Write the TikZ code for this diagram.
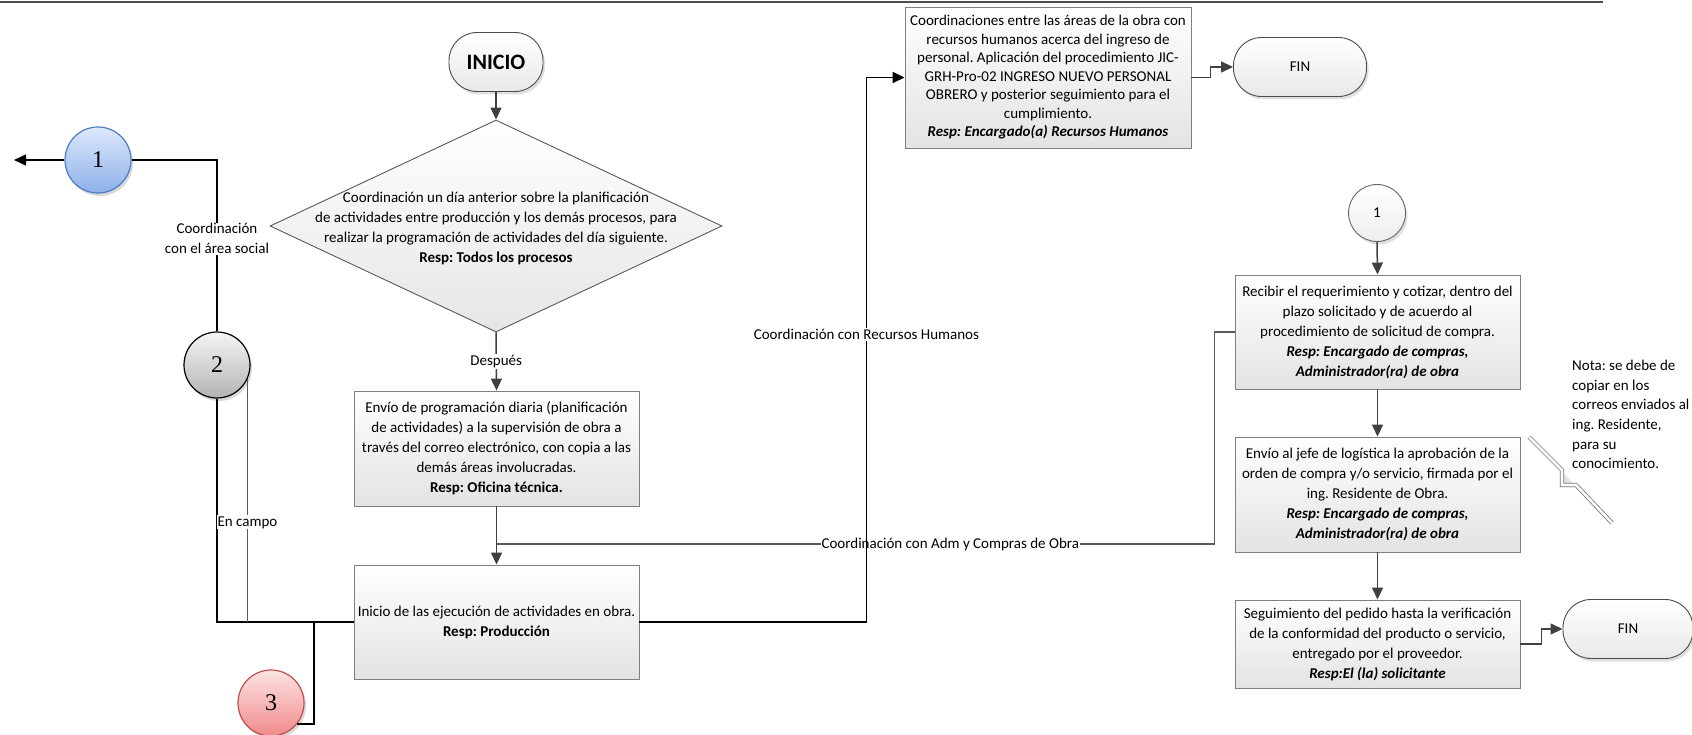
\documentclass[tikz,border=0pt]{standalone}
\usepackage{fontspec}
\setmainfont{Carlito}
\newfontfamily\numfont{Liberation Serif}
\usetikzlibrary{arrows.meta,shapes.geometric,shadows}
\frenchspacing

\definecolor{boxline}{HTML}{7F7F7F}
\definecolor{flowgray}{HTML}{404040}
\definecolor{linkgray}{HTML}{5A5A5A}
\definecolor{blueedge}{HTML}{4F7CC0}
\definecolor{bluetop}{HTML}{DDE8FB}
\definecolor{bluebot}{HTML}{8EB1EA}
\definecolor{redEdge}{HTML}{C0504D}
\definecolor{redtop}{HTML}{FDE3E3}
\definecolor{redbot}{HTML}{F08A8A}

\begin{document}
\begin{tikzpicture}[x=1pt, y=-1pt,
  every node/.style={font=\fontsize{15}{20}\selectfont},
  procbox/.style={rectangle, draw=boxline, line width=0.9pt, top color=white,
    bottom color=black!11, align=center, inner sep=0pt, minimum width=285pt},
  dmd/.style={diamond, draw=black!65, line width=0.9pt, top color=white,
    bottom color=black!10, minimum width=452pt, minimum height=212pt,
    inner sep=0pt, aspect=2.13},
  term/.style={rectangle, rounded corners=28pt, draw=black!70, line width=0.9pt,
    top color=white, bottom color=black!9, minimum height=59pt, inner sep=0pt,
    drop shadow={shadow xshift=2pt, shadow yshift=-3pt, opacity=0.25}},
  offpage/.style={circle, minimum size=66pt, inner sep=0pt, line width=1.2pt,
    font=\numfont\fontsize{24}{24}\selectfont,
    drop shadow={shadow xshift=2pt, shadow yshift=-3pt, opacity=0.3}},
  conn/.style={circle, minimum size=57pt, inner sep=0pt, draw=black!60,
    line width=0.9pt, top color=white, bottom color=black!7,
    drop shadow={shadow xshift=2pt, shadow yshift=-3pt, opacity=0.25}},
  lbl/.style={fill=white, inner sep=1pt, align=center},
  flow/.style={draw=flowgray, line width=1.5pt,
    -{Triangle[length=12pt, width=11pt]}},
  blacklink/.style={draw=black, line width=1.7pt},
  graylink/.style={draw=linkgray, line width=1.5pt},
  notecall/.style={draw=black!55, line width=0.8pt, double=white,
    double distance=2.6pt}
]
\useasboundingbox (0,0) rectangle (1692,735);

% header rule
\draw[black!70, line width=1.2pt] (0,2) -- (1603,2);

% ---- main column
\node[term, minimum width=94pt] (inicio) at (496,62)
  {\fontsize{22}{24}\selectfont\bfseries INICIO};
\node[dmd] (dec) at (496,226) {};
\node[align=center, inner sep=0pt] (dectext) at (496,228)
  {Coordinación un día anterior sobre la planificación\\
   de actividades entre producción y los demás procesos, para\\
   realizar la programación de actividades del día siguiente.\\
   \textbf{Resp: Todos los procesos}};
\node[procbox, minimum height=115pt] (envio) at (496.5,448.5)
  {Envío de programación diaria (planificación\\
   de actividades) a la supervisión de obra a\\
   través del correo electrónico, con copia a las\\
   demás áreas involucradas.\\
   \textbf{Resp: Oficina técnica.}};
\node[procbox, minimum height=114pt] (prod) at (496.5,622)
  {Inicio de las ejecución de actividades en obra.\\
   \textbf{Resp: Producción}};

% ---- human resources branch
\node[procbox, minimum width=286pt, minimum height=141pt,
      font=\fontsize{15}{18.5}\selectfont] (rrhh) at (1048,77.5)
  {Coordinaciones entre las áreas de la obra con\\
   recursos humanos acerca del ingreso de\\
   personal. Aplicación del procedimiento JIC-\\
   GRH-Pro-02 INGRESO NUEVO PERSONAL\\
   OBRERO y posterior seguimiento para el\\
   cumplimiento.\\
   \textbf{\textit{Resp: Encargado(a) Recursos Humanos}}};
\node[term, minimum width=133pt] (fin1) at (1300,67) {FIN};

% ---- purchasing branch
\node[conn] (c1r) at (1377,213) {1};
\node[procbox, minimum height=114pt] (recibir) at (1377.5,332)
  {Recibir el requerimiento y cotizar, dentro del\\
   plazo solicitado y de acuerdo al\\
   procedimiento de solicitud de compra.\\
   \textbf{\textit{Resp: Encargado de compras,}}\\
   \textbf{\textit{Administrador(ra) de obra}}};
\node[procbox, minimum height=115pt] (jefe) at (1377.5,494.5)
  {Envío al jefe de logística la aprobación de la\\
   orden de compra y/o servicio, firmada por el\\
   ing. Residente de Obra.\\
   \textbf{\textit{Resp: Encargado de compras,}}\\
   \textbf{\textit{Administrador(ra) de obra}}};
\node[procbox, minimum height=88pt] (seg) at (1377.5,644)
  {Seguimiento del pedido hasta la verificación\\
   de la conformidad del producto o servicio,\\
   entregado por el proveedor.\\
   \textbf{\textit{Resp:El (la) solicitante}}};
\node[term, minimum width=130pt] (fin2) at (1628,629) {FIN};

% note with its callout
\node[anchor=north west, align=left, inner sep=0pt,
      font=\fontsize{15}{19.6}\selectfont] (nota) at (1572,360)
  {Nota: se debe de\\copiar en los\\correos enviados al\\ing. Residente,\\para su\\conocimiento.};
\draw[notecall, drop shadow={shadow xshift=1.5pt, shadow yshift=-2pt, opacity=0.2}]
  (1529,437) -- (1562,470) -- (1562,485) -- (1576,485) -- (1612,523);

% ---- off-page connectors
\node[offpage, draw=blueedge, top color=bluetop, bottom color=bluebot] (c1) at (98,160) {1};
\node[offpage, draw=black, top color=black!4, bottom color=black!30] (c2) at (217,365) {2};
\node[offpage, draw=redEdge, top color=redtop, bottom color=redbot] (c3) at (271,703) {3};
\coordinate (exit) at (14,160);
\coordinate (j3) at (314,622);
\coordinate (admrow) at (0,544);
\coordinate (admjoin) at (envio.south |- admrow);

% ---- connectors
\draw[flow] (inicio.south) -- (dec.north);
\draw[flow] (dec.south) -- node[lbl]{Después} (envio.north);
\draw[flow] (envio.south) -- (prod.north);

\draw[graylink] (recibir.west) -- ++(-20,0) |-
  node[lbl, pos=0.684]{Coordinación con Adm y Compras de Obra} (admjoin);

\draw[blacklink, -{Triangle[length=12pt, width=11pt]}] (prod.east) -- ++(227,0) |-
  node[lbl, pos=0.264]{Coordinación con Recursos Humanos} (rrhh.west);

\draw[flow] (rrhh.east) -- ++(19,0) |- (fin1.west);
\draw[flow] (c1r.south) -- (recibir.north);
\draw[flow] (recibir.south) -- (jefe.north);
\draw[flow] (jefe.south) -- (seg.north);
\draw[flow] (seg.east) -- ++(21,0) |- (fin2.west);

\draw[blacklink] (prod.west) -| (c2.south);
\draw[graylink] (c2.-25) -- node[lbl, pos=0.59]{En campo} (c2.-25 |- prod.west);
\draw[blacklink] (c2.north) |- node[lbl, pos=0.27]{Coordinación\\con el área social} (c1.east);
\draw[blacklink, -{Triangle[length=12pt, width=11pt]}] (c1.west) -- (exit);
\draw[blacklink] (c3.-38) -| (j3);
\end{tikzpicture}
\end{document}
